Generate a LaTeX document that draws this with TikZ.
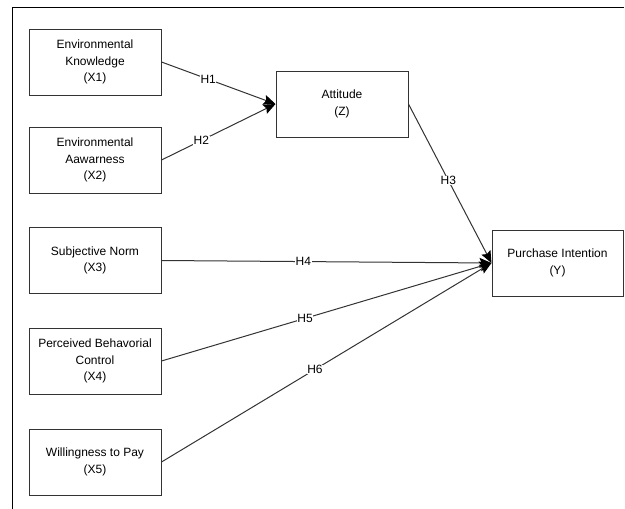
\documentclass[tikz,border=0pt]{standalone}
\usepackage{fontspec}
\setmainfont{Liberation Sans}
\usetikzlibrary{arrows.meta}
\begin{document}
\begin{tikzpicture}[x=1pt,y=-1pt,
  box/.style={draw=black!80, line width=1pt, minimum width=132pt, minimum height=66pt, align=center, inner sep=2pt, font=\fontsize{12}{16.5}\selectfont, text=black},
  link/.style={draw=black!80, line width=1pt, -{Stealth[length=12pt,width=10pt,inset=2pt,color=black]}},
  hlab/.style={fill=white, inner sep=0.5pt, font=\fontsize{12}{14}\selectfont, text=black}]
\useasboundingbox (0,0) rectangle (625,509);
\coordinate (ftl) at (12,7);
\coordinate (ftr) at (624,7);
\coordinate (fbl) at (12,509);
\draw[line width=1pt, black] (fbl) -- (ftl) -- (ftr);
\node[box] (x1) at (95,62) {Environmental\\Knowledge\\(X1)};
\node[box] (x2) at (95,160) {Environmental\\Aawarness\\(X2)};
\node[box] (x3) at (95,260.5) {Subjective Norm\\(X3)};
\node[box] (x4) at (95,361) {Perceived Behavorial\\Control\\(X4)};
\node[box] (x5) at (95,462) {Willingness to Pay\\(X5)};
\node[box] (att) at (342,104) {Attitude\\(Z)};
\node[box, minimum width=131pt] (pi) at (557.5,263) {Purchase Intention\\(Y)};
\draw[link] (x1.east) -- node[hlab, pos=0.41] {H1} (att.west);
\draw[link] (x2.east) -- node[hlab, pos=0.35] {H2} (att.west);
\draw[link] (att.east) -- node[hlab, pos=0.48] {H3} (pi.west);
\draw[link] (x3.east) -- node[hlab, pos=0.43] {H4} (pi.west);
\draw[link] (x4.east) -- node[hlab, pos=0.435] {H5} (pi.west);
\draw[link] (x5.east) -- node[hlab, pos=0.465] {H6} (pi.west);
\end{tikzpicture}
\end{document}
